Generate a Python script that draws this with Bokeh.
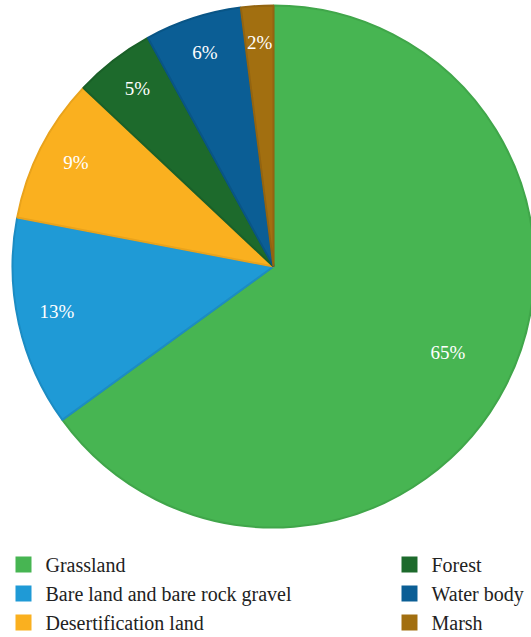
import math
from bokeh.plotting import figure
from bokeh.models import Range1d, ColumnDataSource
from bokeh.core.properties import value
from bokeh.embed import file_html
from bokeh.resources import INLINE

categories = ["Grassland", "Bare land and bare rock gravel", "Desertification land",
              "Forest", "Water body", "Marsh"]
percents = [65, 13, 9, 5, 6, 2]
labels = ["65%", "13%", "9%", "5%", "6%", "2%"]
colors = ["#47b552", "#1f9ad6", "#fab01f", "#1d6a2c", "#0b5e95", "#a26f10"]
edge_colors = ["#40a64a", "#1c8cc3", "#e9a31c", "#1a6028", "#095586", "#936410"]

W, H = 531, 637
cx, cy, R = 273, H - 266, 261
FONT = "Liberation Serif"

p = figure(width=W, height=H, output_backend="svg", toolbar_location=None,
           x_range=Range1d(0, W), y_range=Range1d(0, H), min_border=0)
p.axis.visible = False
p.grid.visible = False
p.outline_line_color = None
p.background_fill_color = "white"

total = sum(percents)
starts, ends, lx, ly = [], [], [], []
cum = 0.0
for i, v in enumerate(percents):
    a0 = math.pi / 2 - 2 * math.pi * cum / total
    cum += v
    a1 = math.pi / 2 - 2 * math.pi * cum / total
    starts.append(a1)
    ends.append(a0)
    mid = (a0 + a1) / 2
    rf = 0.75 if v > 30 else 0.85
    lx.append(cx + R * rf * math.cos(mid))
    ly.append(cy + R * rf * math.sin(mid) + 3)

src = ColumnDataSource(dict(start=starts, end=ends, color=colors, edge=edge_colors,
                            lx=lx, ly=ly, label=labels))
p.wedge(x=cx, y=cy, radius=R, start_angle="start", end_angle="end",
        fill_color="color", line_color="edge", line_width=2, source=src)
p.text(x="lx", y="ly", text="label", text_color="white", text_font=value(FONT),
       text_font_size="19px", text_align="center", text_baseline="middle", source=src)

# legend
leg_x, leg_y = [], []
for i in range(len(categories)):
    col, row = divmod(i, 3)
    leg_x.append(23 if col == 0 else 409)
    leg_y.append(H - (564 + 29 * row))
lsrc = ColumnDataSource(dict(x=leg_x, y=leg_y, tx=[x + 22 for x in leg_x],
                             name=categories, color=colors))
p.rect(x="x", y="y", width=16, height=16, fill_color="color", line_color=None, source=lsrc)
p.text(x="tx", y="y", text="name", text_color="#222222", text_font=value(FONT),
       text_font_size="20px", text_align="left", text_baseline="middle", source=lsrc)

open("out.html", "w").write(file_html(p, INLINE))
